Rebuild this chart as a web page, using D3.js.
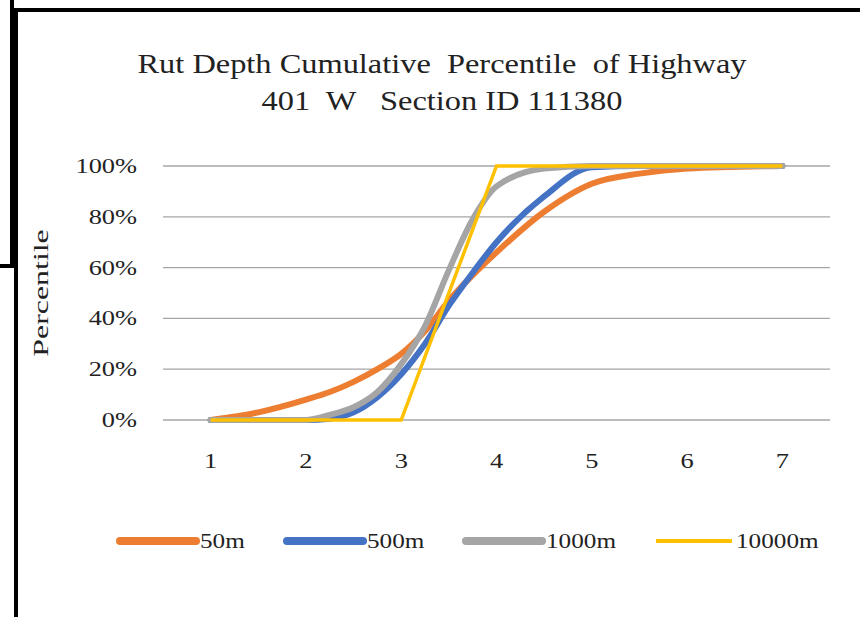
<!DOCTYPE html>
<html><head><meta charset="utf-8">
<script src="https://cdn.jsdelivr.net/npm/d3@7"></script>
<style>body{margin:0;background:#fff}text{font-family:"Liberation Serif","Times New Roman",serif;fill:#222}</style>
</head><body>
<script>
var W = 860, H = 617;
var xs = [1, 1.5, 2, 2.25, 2.5, 2.75, 3, 3.25, 3.5, 3.75, 4, 4.5, 5, 5.5, 6, 7];
var s50 = [0, 3, 8, 11, 15, 20, 26, 35, 47, 57, 66, 82, 93, 97, 99, 100];
var s500 = [0, 0, 0, 0.5, 3, 9, 18, 30, 45, 58, 70, 88, 99.5, 100, 100, 100];
var s1000 = [0, 0, 0, 2, 5, 11, 22, 37, 59, 79, 92, 99, 100, 100, 100, 100];
var x10000 = [1, 3, 4, 7];
var s10000 = [0, 0, 100, 100];
var names = ['50m', '500m', '1000m', '10000m'];
var colors = ['#ed7d31', '#4472c4', '#a5a5a5', '#ffc000'];
var yTicks = [0, 20, 40, 60, 80, 100];
var xTicks = [1, 2, 3, 4, 5, 6, 7];
var SX = 1.2; // text in the picture is stretched sideways

var svg = d3.select('body').append('svg').attr('width', W).attr('height', H);

svg.append('path').attr('fill', 'none').attr('stroke', '#000').attr('stroke-width', 4)
   .attr('d', 'M12,0 V266 H0 M16,617 V10 H860');

var x = d3.scaleLinear().domain([0.5, 7.5]).range([163, 830]);
var y = d3.scaleLinear().domain([0, 100]).range([420, 166]);

function txt(g, px, py, s, anchor, size) {
  return g.append('text').attr('transform', `translate(${px},${py}) scale(${SX},1)`)
    .attr('text-anchor', anchor).style('font-size', size + 'px').text(s);
}
txt(svg, 442, 73, 'Rut Depth Cumulative  Percentile  of Highway', 'middle', 27).style('white-space', 'pre');
txt(svg, 442, 110, '401  W   Section ID 111380', 'middle', 27).style('white-space', 'pre');

svg.append('g').selectAll('line').data(yTicks).enter().append('line')
   .attr('x1', 163).attr('x2', 830).attr('y1', d => y(d)).attr('y2', d => y(d))
   .attr('stroke', '#a6a6a6').attr('stroke-width', 1.3);

yTicks.forEach(d => txt(svg, 137, y(d) + 7, d + '%', 'end', 22));
xTicks.forEach(d => txt(svg, x(d), 468, d, 'middle', 22));

svg.append('text').attr('transform', 'translate(48,293) rotate(-90) scale(1.45,1)')
   .attr('text-anchor', 'middle').style('font-size', '22px').text('Percentile');

var smooth = d3.line().x(d => x(d[0])).y(d => y(d[1])).curve(d3.curveMonotoneX);
var straight = d3.line().x(d => x(d[0])).y(d => y(d[1]));
var series = [s50, s500, s1000].map(s => xs.map((v, i) => [v, s[i]]));
series.forEach((s, i) => {
  svg.append('path').datum(s).attr('fill', 'none').attr('stroke', colors[i])
     .attr('stroke-width', 6).attr('stroke-linecap', 'round').attr('d', smooth);
});
svg.append('path').datum(x10000.map((v, i) => [v, s10000[i]])).attr('fill', 'none')
   .attr('stroke', colors[3]).attr('stroke-width', 3.5).attr('d', straight);

var legX = [120, 287, 466, 656];
names.forEach((d, i) => {
  var g = svg.append('g').attr('transform', `translate(${legX[i]},541)`);
  g.append('line').attr('x1', 0).attr('x2', 76).attr('stroke', colors[i])
   .attr('stroke-width', i == 3 ? 4 : 8).attr('stroke-linecap', i == 3 ? 'butt' : 'round');
  txt(g, 80, 7, d, 'start', 21);
});
</script>
</body></html>
